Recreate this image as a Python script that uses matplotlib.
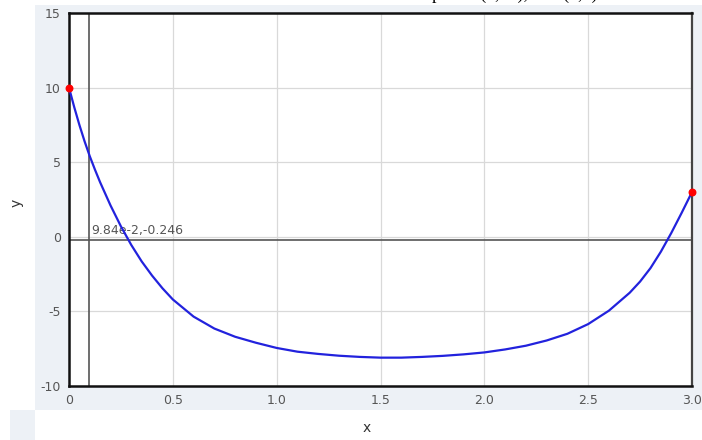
import matplotlib
matplotlib.use("Agg")
import matplotlib.pyplot as plt
from matplotlib.patches import Rectangle

plt.rcParams["axes.unicode_minus"] = False

# curve
x_vals = [0.0, 0.025, 0.05, 0.075, 0.1, 0.125, 0.15, 0.2, 0.25, 0.3, 0.35, 0.4, 0.45,
          0.5, 0.6, 0.7, 0.8, 0.9, 1.0, 1.1, 1.2, 1.3, 1.4, 1.5, 1.6, 1.7, 1.8, 1.9,
          2.0, 2.1, 2.2, 2.3, 2.4, 2.5, 2.6, 2.7, 2.75, 2.8, 2.85, 2.9, 2.95, 3.0]
y_vals = [10.0, 8.7, 7.5, 6.4, 5.4, 4.5, 3.65, 2.1, 0.7, -0.55, -1.65, -2.6, -3.45,
          -4.2, -5.35, -6.15, -6.7, -7.1, -7.45, -7.7, -7.85, -7.97, -8.05, -8.1, -8.1,
          -8.05, -7.98, -7.88, -7.75, -7.55, -7.3, -6.95, -6.5, -5.85, -4.95, -3.75,
          -3.0, -2.1, -1.0, 0.25, 1.6, 3.0]

# boundary points
end_x = [0.0, 3.0]
end_y = [10.0, 3.0]

# crosshair marker
cross_x = 0.0984
cross_y = -0.246
cross_label = "9.84e-2,-0.246"

x_ticks = [0, 0.5, 1.0, 1.5, 2.0, 2.5, 3.0]
x_tick_labels = ["0", "0.5", "1.0", "1.5", "2.0", "2.5", "3.0"]
y_ticks = [-10, -5, 0, 5, 10, 15]

W, H = 702, 440
band = "#edf1f6"
label_col = "#555555"


def px_rect(x, y, w, h):
    """Pixel box (top-left origin) to figure fraction."""
    return (x / W, 1 - (y + h) / H, w / W, h / H)


fig = plt.figure(figsize=(W / 100, H / 100), dpi=100)

# light panel behind the axes
for (x, y, w, h) in [(35, 5, 667, 405), (10, 410, 25, 30)]:
    fx, fy, fw, fh = px_rect(x, y, w, h)
    fig.add_artist(Rectangle((fx, fy), fw, fh, transform=fig.transFigure,
                             facecolor=band, edgecolor="none", zorder=0))

l, b, w, h = px_rect(69, 13, 623, 373)
ax = fig.add_axes([l, b, w, h])
ax.set_facecolor("white")
ax.set_xlim(0, 3)
ax.set_ylim(-10, 15)

ax.set_xticks(x_ticks)
ax.set_xticklabels(x_tick_labels)
ax.set_yticks(y_ticks)
ax.tick_params(length=0, labelsize=9, labelcolor=label_col, pad=6)
ax.grid(True, color="#d9d9d9", linewidth=0.9)
ax.set_axisbelow(True)

for side in ["left", "bottom", "top"]:
    ax.spines[side].set_color("#111111")
    ax.spines[side].set_linewidth(1.8)
ax.spines["right"].set_color("#444444")
ax.spines["right"].set_linewidth(1.6)

# crosshair
ax.axvline(cross_x, color="#555555", linewidth=1.2, zorder=2)
ax.axhline(cross_y, color="#555555", linewidth=1.2, zorder=2)
ax.text(cross_x + 0.01, cross_y + 0.25, cross_label, fontsize=9,
        color="#555555", va="bottom", ha="left", zorder=3)

ax.plot(x_vals, y_vals, color="#2222dd", linewidth=1.6, zorder=4)
ax.scatter(end_x, end_y, s=22, color="red", zorder=5, clip_on=False)

fig.text(17 / W, 1 - 203 / H, "y", rotation=90, fontsize=10, color="#333333",
         ha="center", va="center")
fig.text(367 / W, 1 - 428 / H, "x", fontsize=10, color="#333333",
         ha="center", va="center")

# title, mostly cut off by the top edge in the reference
fig.text(500 / W, 1 + 1 / H, "Endpoints (0,10), and (3,3)", fontsize=13,
         family="Liberation Serif", ha="center", va="baseline", color="black")

fig.savefig("out.png", dpi=100)
